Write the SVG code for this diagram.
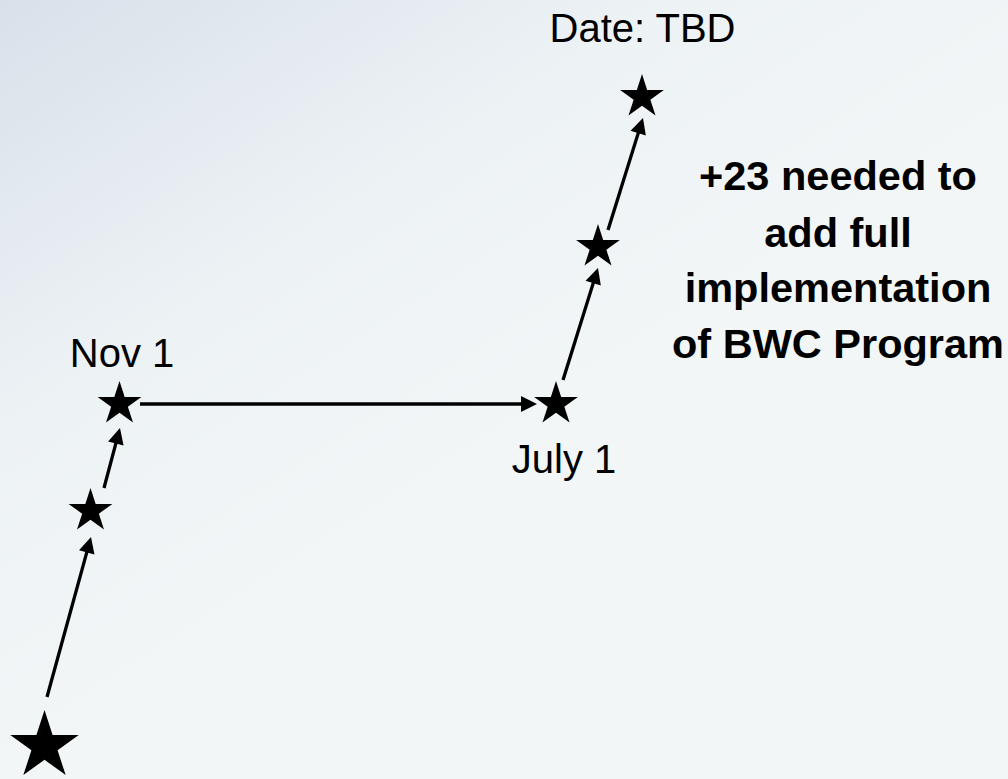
<svg xmlns="http://www.w3.org/2000/svg" width="1008" height="779" viewBox="0 0 1008 779">
  <style>
    .lbl { font-family: "Liberation Sans", Arial, sans-serif; font-size: 40px; fill: #000; text-anchor: middle; }
    .note { font-family: "Liberation Sans", Arial, sans-serif; font-size: 41.5px; font-weight: bold; fill: #000; text-anchor: middle; }
    .conn { stroke: #000; stroke-width: 3.3; fill: none; marker-end: url(#arrow); }
    .star { fill: #000; }
  </style>
  <defs>
    <linearGradient id="bg" x1="0" y1="0" x2="0.5" y2="0.6">
      <stop offset="0" stop-color="#d8e1ea"/>
      <stop offset="0.55" stop-color="#edf2f5"/>
      <stop offset="1" stop-color="#f2f6f7"/>
    </linearGradient>
    <path id="starShape" d="M0,-1 L0.2245,-0.309 L0.9511,-0.309 L0.3633,0.118 L0.5878,0.809 L0,0.382 L-0.5878,0.809 L-0.3633,0.118 L-0.9511,-0.309 L-0.2245,-0.309 Z"/>
    <marker id="arrow" markerUnits="userSpaceOnUse" markerWidth="16" markerHeight="16" refX="6" refY="8" orient="auto" overflow="visible">
      <path d="M0,0 L16,8 L0,16 Z" fill="#000"/>
    </marker>
  </defs>
  <rect width="1008" height="779" fill="url(#bg)"/>

  <g id="connectors">
    <line class="conn" x1="47" y1="697" x2="88.35" y2="546.64"/>
    <line class="conn" x1="104" y1="488" x2="117.4" y2="437.7"/>
    <line class="conn" x1="140" y1="404" x2="527" y2="404"/>
    <line class="conn" x1="563" y1="380" x2="595" y2="277.5"/>
    <line class="conn" x1="608" y1="230" x2="640" y2="127.5"/>
  </g>

  <g id="start">
    <use href="#starShape" class="star" transform="translate(44.5,746) scale(36)"/>
  </g>
  <g id="step1">
    <use href="#starShape" class="star" transform="translate(90.5,511) scale(23)"/>
  </g>
  <g id="nov1">
    <use href="#starShape" class="star" transform="translate(119.5,404) scale(23)"/>
    <text class="lbl" x="122" y="367">Nov 1</text>
  </g>
  <g id="july1">
    <use href="#starShape" class="star" transform="translate(556,404) scale(23)"/>
    <text class="lbl" x="564" y="473">July 1</text>
  </g>
  <g id="step2">
    <use href="#starShape" class="star" transform="translate(598,247) scale(23)"/>
  </g>
  <g id="tbd">
    <use href="#starShape" class="star" transform="translate(642,97) scale(23)"/>
    <text class="lbl" x="642.5" y="42">Date: TBD</text>
  </g>
  <g id="note">
    <text class="note" x="838" y="190">+23 needed to</text>
    <text class="note" x="838" y="247">add full</text>
    <text class="note" x="838" y="302">implementation</text>
    <text class="note" x="838" y="358">of BWC Program</text>
  </g>
</svg>
